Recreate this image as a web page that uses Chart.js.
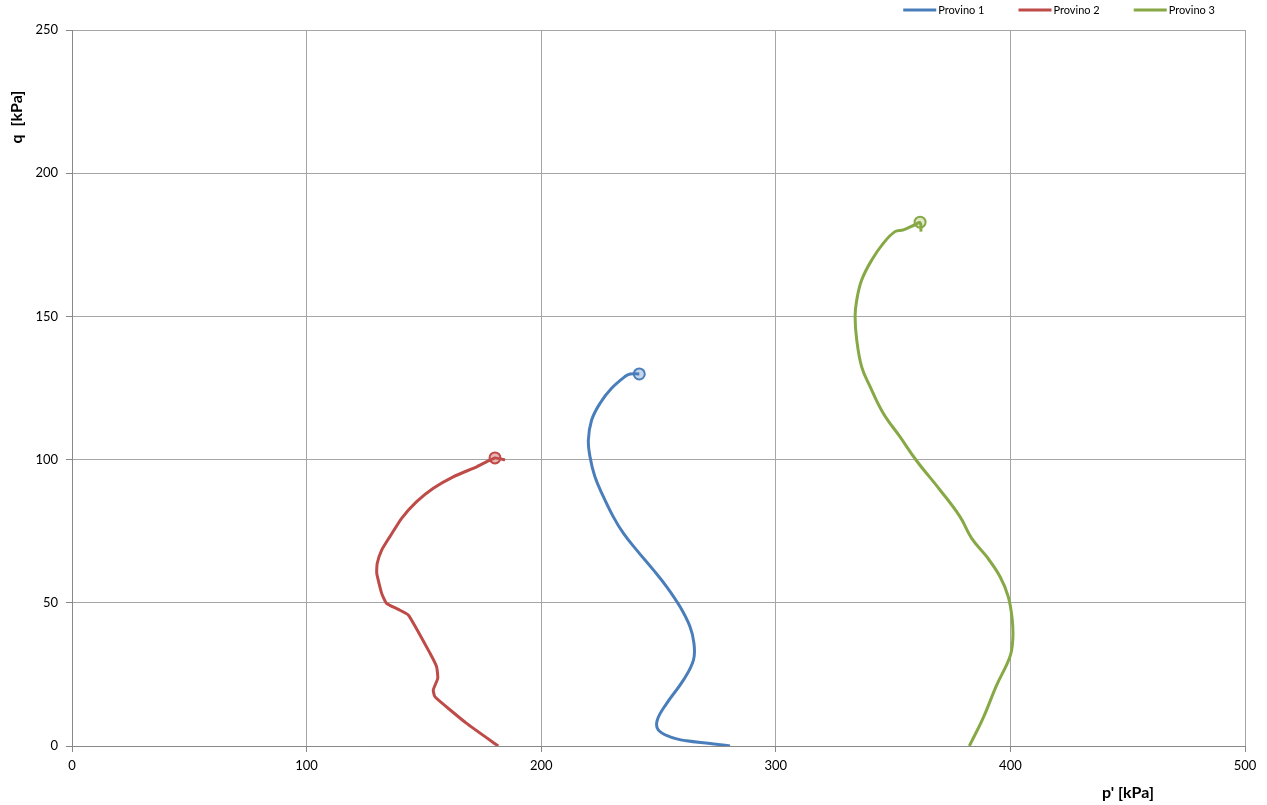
<!DOCTYPE html>
<html>
<head>
<meta charset="utf-8">
<script src="https://cdn.jsdelivr.net/npm/chart.js@4/dist/chart.umd.min.js"></script>
<style>
  html, body { margin: 0; padding: 0; background: #fff; }
  #wrap { width: 1267px; height: 805px; }
</style>
</head>
<body>
<div id="wrap"><canvas id="chart"></canvas></div>
<script>
const seriesNames = ['Provino 1', 'Provino 2', 'Provino 3'];
const lineColors = ['#4a7ebb', '#be4b48', '#86a845'];
const markerFill = ['#c6d6ea', '#e8b6b5', '#dfe9c8'];

// Provino 1 (p', q)
const p1P = [280.5, 272.0, 262.0, 254.9, 249.9, 249.5, 253.5, 260.6, 264.9, 265.1, 263.4, 259.2, 253.5, 247.8, 240.7, 235.0, 230.7, 226.5, 222.9, 220.8, 220.1, 221.5, 225.1, 230.0, 235.7, 237.9, 241.8];
const p1Q = [0, 0.9, 1.8, 3.2, 5.6, 9.1, 14.9, 23.0, 30.0, 35.9, 41.7, 48.6, 55.6, 61.5, 68.4, 74.3, 80.1, 87.1, 94.0, 101.0, 106.8, 113.8, 119.7, 124.9, 129.0, 129.9, 129.9];

// Provino 2
const p2P = [181.7, 168.2, 154.7, 154.0, 155.9, 155.4, 152.6, 143.4, 139.1, 134.1, 132.0, 129.9, 130.1, 132.0, 135.5, 140.5, 146.9, 154.0, 162.5, 172.5, 176.8, 180.3, 184.6];
const p2Q = [0, 7.9, 17.2, 19.6, 23.6, 27.7, 32.4, 45.7, 47.7, 49.8, 53.3, 60.3, 63.8, 68.4, 73.1, 79.5, 85.3, 90.0, 94.0, 97.5, 99.3, 100.6, 99.9];

// Provino 3
const p3P = [382.5, 388.5, 394.0, 399.8, 401.0, 400.8, 399.1, 395.6, 389.9, 383.5, 378.5, 370.0, 360.0, 352.9, 345.8, 340.2, 336.6, 334.5, 333.8, 334.5, 336.6, 340.9, 345.8, 350.8, 354.4, 359.3, 361.5, 361.9];
const p3Q = [0, 10, 21, 31.2, 37.0, 44.0, 52.1, 59.1, 66.1, 72.5, 80.1, 89.4, 99.6, 108.0, 116.2, 125.5, 132.4, 141.8, 149.9, 155.7, 162.7, 169.7, 175.5, 179.6, 180.2, 182.0, 182.7, 179.6];

// failure points (markers)
const failP = [241.8, 180.3, 361.5];
const failQ = [129.9, 100.6, 182.9];

const xTicks = [0, 100, 200, 300, 400, 500];
const yTicks = [0, 50, 100, 150, 200, 250];

function pts(xs, ys) {
  return xs.map((x, i) => ({ x: x, y: ys[i] }));
}

const lineData = [pts(p1P, p1Q), pts(p2P, p2Q), pts(p3P, p3Q)];
const tensions = [0.4, 0.15, 0.4];

const datasets = lineData.map((d, i) => ({
  label: seriesNames[i],
  data: d,
  showLine: true,
  borderColor: lineColors[i],
  borderWidth: 3,
  pointRadius: 0,
  tension: tensions[i],
  fill: false
}));
failP.forEach((x, i) => {
  datasets.push({
    label: '',
    data: [{ x: x, y: failQ[i] }],
    showLine: false,
    pointRadius: 5.5,
    pointBackgroundColor: markerFill[i],
    pointBorderColor: lineColors[i],
    pointBorderWidth: 2
  });
});

const font = "Lato, 'Open Sans', sans-serif";

// legend and axis titles drawn by hand
const decor = {
  id: 'decor',
  afterDraw(chart) {
    const ctx = chart.ctx;
    ctx.save();
    ctx.font = '11px ' + font;
    ctx.textBaseline = 'middle';
    let x = 1215;
    const items = [];
    for (let i = seriesNames.length - 1; i >= 0; i--) {
      const w = ctx.measureText(seriesNames[i]).width;
      const tx = x - w;
      const lx = tx - 2 - 33;
      items.push({ i, tx, lx });
      x = lx - 34;
    }
    items.forEach(it => {
      ctx.strokeStyle = lineColors[it.i];
      ctx.lineWidth = 3;
      ctx.beginPath();
      ctx.moveTo(it.lx, 10);
      ctx.lineTo(it.lx + 33, 10);
      ctx.stroke();
      ctx.fillStyle = '#000';
      ctx.textAlign = 'left';
      ctx.fillText(seriesNames[it.i], it.tx, 10.5);
    });

    ctx.font = 'bold 16px ' + font;
    ctx.fillStyle = '#000';
    ctx.textAlign = 'center';
    ctx.fillText("p' [kPa]", 1128, 793);
    ctx.translate(17, 117);
    ctx.rotate(-Math.PI / 2);
    ctx.fillText('q  [kPa]', 0, 0);
    ctx.restore();
  }
};

new Chart(document.getElementById('chart'), {
  type: 'scatter',
  data: { datasets: datasets },
  options: {
    responsive: true,
    maintainAspectRatio: false,
    animation: false,
    layout: { padding: { top: 30, right: 22, left: 0, bottom: 0 } },
    plugins: {
      legend: { display: false },
      tooltip: { enabled: false }
    },
    scales: {
      x: {
        type: 'linear',
        min: 0,
        max: 500,
        afterBuildTicks(scale) { scale.ticks = xTicks.map(v => ({ value: v })); },
        afterFit(scale) { scale.height = 59; },
        grid: { color: '#a6a6a6', tickLength: 6, tickColor: '#888' },
        border: { color: '#888' },
        ticks: { color: '#000', font: { family: font, size: 13 }, padding: 6, maxRotation: 0 }
      },
      y: {
        type: 'linear',
        min: 0,
        max: 250,
        afterBuildTicks(scale) { scale.ticks = yTicks.map(v => ({ value: v })); },
        afterFit(scale) { scale.width = 72; },
        grid: { color: '#a6a6a6', tickLength: 6, tickColor: '#888' },
        border: { color: '#888' },
        ticks: { color: '#000', font: { family: font, size: 13 }, padding: 8 }
      }
    }
  },
  plugins: [decor]
});
</script>
</body>
</html>
